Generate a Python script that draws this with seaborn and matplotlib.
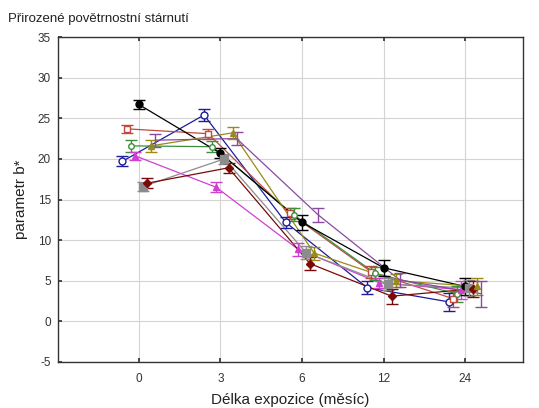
import numpy as np
import pandas as pd
import matplotlib
matplotlib.use("Agg")
import matplotlib.pyplot as plt
import seaborn as sns

# ---- data ----
months = ["0", "3", "6", "12", "24"]
series_names = ["S1", "S2", "S3", "S4", "S5", "S6", "S7", "S8", "S9"]

blue_vals    = [19.7, 25.4, 12.2, 4.15, 2.4]
blue_err     = [0.6, 0.7, 0.7, 0.8, 1.1]
red_vals     = [23.7, 23.1, 13.3, 6.1, 2.8]
red_err      = [0.5, 0.6, 0.7, 0.7, 1.0]
green_vals   = [21.6, 21.5, 13.1, 5.9, 3.4]
green_err    = [0.7, 0.7, 0.8, 0.8, 1.0]
magenta_vals = [20.4, 16.5, 8.9, 4.75, 3.9]
magenta_err  = [0.5, 0.6, 0.8, 0.6, 1.1]
black_vals   = [26.7, 20.7, 12.2, 6.6, 4.3]
black_err    = [0.6, 0.6, 0.9, 1.0, 1.0]
gray_vals    = [16.6, 20.0, 8.45, 4.6, 4.1]
gray_err     = [0.5, 0.6, 0.8, 0.7, 1.0]
darkred_vals = [17.0, 18.9, 7.1, 3.1, 4.0]
darkred_err  = [0.6, 0.6, 0.8, 0.9, 1.0]
olive_vals   = [21.6, 23.2, 8.4, 5.0, 4.3]
olive_err    = [0.7, 0.7, 0.8, 0.8, 1.1]
purple_vals  = [22.3, 22.5, 13.1, 5.1, 3.4]
purple_err   = [0.8, 0.8, 0.9, 0.9, 1.6]

all_vals = [blue_vals, red_vals, green_vals, magenta_vals, black_vals,
            gray_vals, darkred_vals, olive_vals, purple_vals]
all_errs = [blue_err, red_err, green_err, magenta_err, black_err,
            gray_err, darkred_err, olive_err, purple_err]

# ---- styles ----
colors = ["#1c1c9c", "#c04a40", "#3a8f3a", "#d040d0", "#000000",
          "#8c8c8c", "#7a0a0a", "#9a8a18", "#8a4aa0"]
markers = ["o", "s", "o", "^", "o", "s", "D", "^", ""]
filled = [False, False, False, True, True, True, True, True, False]
msizes = [5, 5, 4, 5, 5, 6, 4, 5, 4]
dodge = np.linspace(-0.2, 0.2, len(series_names))

rows = []
for i, name in enumerate(series_names):
    for j, m in enumerate(months):
        rows.append({"series": name, "month": m, "idx": j,
                     "x": j + dodge[i], "value": all_vals[i][j],
                     "err": all_errs[i][j]})
df = pd.DataFrame(rows)

sns.set_theme(style="white")
plt.rcParams["font.family"] = ["Liberation Sans", "DejaVu Sans"]
plt.rcParams["axes.unicode_minus"] = False

fig = plt.figure(figsize=(5.39, 4.08), dpi=100)
ax = fig.add_axes([58 / 539, 1 - 362 / 408, (523 - 58) / 539, (362 - 37) / 408])

sns.lineplot(data=df, x="x", y="value", hue="series", palette=colors,
             hue_order=series_names, sort=False, estimator=None,
             linewidth=0.9, legend=False, ax=ax, zorder=2)

for i, name in enumerate(series_names):
    d = df[df["series"] == name]
    c = colors[i]
    ax.errorbar(d["x"], d["value"], yerr=d["err"], fmt="none",
                ecolor=c, elinewidth=1.0, capsize=4, capthick=1.0, zorder=3)
    if markers[i]:
        ax.plot(d["x"], d["value"], linestyle="none", marker=markers[i],
                markersize=msizes[i], markeredgecolor=c,
                markerfacecolor=(c if filled[i] else "white"),
                markeredgewidth=1.0, zorder=4)

ax.set_xlim(-0.99, 4.71)
ax.set_ylim(-5, 35)
ax.set_xticks(range(len(months)))
ax.set_xticklabels(months)
ax.set_yticks(np.arange(-5, 36, 5))
ax.grid(True, color="#d4d4d4", linewidth=0.8)
ax.set_axisbelow(True)
for s in ax.spines.values():
    s.set_color("#333333")
    s.set_linewidth(1.0)
ax.tick_params(axis="x", which="both", bottom=True, top=True, direction="in",
               length=3, labelsize=8.5, colors="#333333", pad=8)
ax.tick_params(axis="y", left=True, direction="in", length=3,
               labelsize=8.5, colors="#333333", pad=5)
ax.set_xlabel("Délka expozice (měsíc)", fontsize=11, color="#222222", labelpad=6)
ax.set_ylabel("parametr b*", fontsize=11, color="#222222")
ax.yaxis.set_label_coords(-0.064, 0.5)

fig.text(8 / 539, 1 - 22 / 408, "Přirozené povětrnostní stárnutí",
         fontsize=9.5, color="#222222", ha="left", va="baseline")

fig.savefig("out.png", dpi=100)
